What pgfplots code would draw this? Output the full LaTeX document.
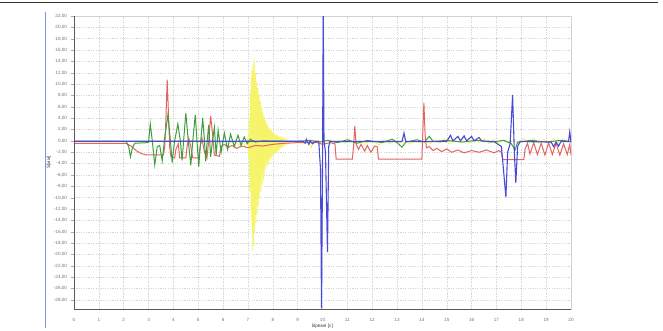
\documentclass[border=0pt]{standalone}
\usepackage{pgfplots}
\pgfplotsset{compat=1.18}
\usepackage{fontspec}
\setmainfont{Liberation Sans}
\definecolor{cred}{HTML}{E46464}
\definecolor{cgreen}{HTML}{3E9E3E}
\definecolor{cblue}{HTML}{4A4AD8}
\definecolor{cyellow}{HTML}{F6F46A}
\definecolor{cgrid}{HTML}{D6D6D6}
\definecolor{ctick}{HTML}{707070}
\begin{document}
\begin{tikzpicture}
\path[use as bounding box] (0pt,0pt) rectangle (663pt,330pt);
\draw[line width=1.8pt, black!80] (0pt,327.5pt) -- (658pt,327.5pt);
\draw[line width=1.6pt, color={rgb,255:red,120;green,150;blue,225}] (45.5pt,2pt) -- (45.5pt,318pt);
\begin{axis}[
  at={(74pt,21pt)}, anchor=south west,
  scale only axis, width=497pt, height=293pt,
  xmin=0, xmax=20, ymin=-29.6, ymax=22,
  xtick={0,1,...,20},
  ytick={-28,-26,...,22},
  grid=major,
  major grid style={cgrid, dash pattern=on 1.2pt off 1.2pt, line width=0.5pt},
  axis line style={draw=gray!35, line width=0.6pt},
  tick style={ctick!60, line width=0.4pt},
  tick align=outside,
  ytick pos=left, xtick pos=bottom,
  major tick length=3.5pt,
  xtick style={draw=none},
  /pgf/number format/assume math mode=true,
  ticklabel style={font=\fontsize{4.6}{5}\selectfont, text=ctick},
  yticklabel style={/pgf/number format/.cd, fixed, fixed zerofill, precision=2, use comma},
  xticklabel style={yshift=-2pt},
  xticklabel={\pgfmathprintnumber[fixed,precision=0]{\tick}},
  xlabel={Время [с]}, ylabel={S[мм]},
  label style={font=\fontsize{4.8}{5}\selectfont, text=black!75},
  xlabel style={yshift=4pt},
  ylabel style={yshift=-4pt},
  clip=true,
]
% yellow
\addplot[cyellow, line width=0.8pt] coordinates {
(0,0)(1,0.05)(2,-0.05)(3,0.05)(4,0)(5,0.1)(6,-0.1)(6.5,-0.3)(6.7,-0.8)(6.8,-0.4)(6.9,-1.0)(6.96,-0.3)
(7.000,0.8)(7.025,-3)(7.050,4)(7.075,-9)(7.100,9)(7.125,-14)(7.150,12.5)(7.175,-19.3)(7.200,13.5)(7.225,-18.5)
(7.250,14.6)(7.275,-16)(7.300,12)(7.325,-14.5)(7.350,10.5)(7.375,-13)(7.400,9.3)(7.425,-11.5)(7.450,8.2)(7.475,-10)
(7.500,7)(7.525,-9)(7.550,6)(7.575,-7.8)(7.600,5)(7.625,-6.8)(7.650,4.3)(7.675,-5.8)(7.700,3.6)(7.725,-5)
(7.750,3.1)(7.775,-4.4)(7.800,2.7)(7.825,-4)(7.850,2.3)(7.875,-3.5)(7.900,2)(7.925,-3.2)(7.950,1.8)(7.975,-2.9)
(8.000,1.6)(8.025,-2.6)(8.050,1.4)(8.075,-2.3)(8.100,1.2)(8.125,-2.1)(8.150,1.1)(8.175,-1.9)(8.200,1.0)(8.225,-1.7)
(8.250,0.9)(8.275,-1.5)(8.300,0.8)(8.325,-1.3)(8.350,0.7)(8.375,-1.1)(8.400,0.6)(8.425,-1)(8.450,0.5)(8.475,-0.8)
(8.5,0.4)(8.55,-0.6)(8.6,0.3)(8.65,-0.4)
(8.7,0.1)(8.9,-0.2)(9.1,0.2)(9.3,-0.1)(9.45,-0.2)(9.55,-1.2)(9.6,-0.2)(9.8,0.1)(10.1,-0.2)(10.3,0.2)(10.5,-0.3)
(10.7,0.2)(10.9,-0.4)(11.1,0.3)(11.3,-0.5)(11.5,0.2)(11.7,-0.6)(11.9,0.1)(12.1,-0.3)(12.3,-0.7)(12.5,0.3)
(12.7,-0.5)(12.9,0.2)(13.1,-0.4)(13.3,0.3)(13.5,-0.6)(13.7,0.2)(13.9,-0.3)(14.1,0.4)(14.3,-0.5)(14.5,0.3)
(14.7,-0.4)(14.9,0.4)(15.1,-0.5)(15.3,0.3)(15.5,-0.3)(15.7,0.5)(15.9,-0.4)(16.1,0.3)(16.3,-0.3)(16.5,0.4)
(16.7,-0.5)(16.9,0.3)(17.1,-0.4)(17.3,0.2)(17.5,-0.3)(17.7,0.3)(17.9,-0.6)(18.1,0.4)(18.3,-0.3)(18.5,0.5)
(18.7,-0.4)(18.9,0.3)(19.1,-0.3)(19.3,0.4)(19.5,-0.3)(19.7,0.3)(19.9,-0.2)(20,0)
};
% red
\addplot[cred, line width=1pt] coordinates {
(0,-0.45)(2.1,-0.45)(2.3,-0.9)(2.5,-1.7)(2.7,-2.2)(2.9,-2.45)(3.6,-2.45)(3.65,-1.0)(3.7,4)(3.75,10.8)(3.8,5)
(3.85,-1)(3.9,-2.8)(4.05,-3.0)(4.1,-1.5)(4.2,-0.5)(4.25,-3.0)(4.5,-3.0)(4.55,-1)(4.62,0.5)(4.7,-1)(4.78,-3.0)
(5.0,-3.0)(5.08,-1)(5.15,0.5)(5.25,-2)(5.35,-3.0)(5.42,0)(5.5,4.4)(5.58,1)(5.65,-2.5)(5.85,-2.7)(5.92,-1)
(6.05,-0.6)(6.2,-1.2)(6.35,-0.8)(6.55,-1.3)(6.75,-0.9)(7.0,-1.2)(7.3,-0.8)(7.6,-0.9)(8.0,-0.6)(8.5,-0.4)
(9.0,-0.3)(9.8,-0.3)(10.0,-0.6)(10.3,-0.3)(10.5,-0.5)(10.55,-3.2)(11.2,-3.2)(11.25,-1)(11.3,2.6)(11.35,-0.5)
(11.45,-1.5)(11.55,-0.6)(11.7,-1.8)(11.8,-0.8)(11.95,-2.0)(12.1,-0.9)(12.2,-1.0)(12.25,-3.2)(14.0,-3.2)
(14.04,2)(14.08,6.7)(14.13,1)(14.18,-1.2)(14.3,-1.0)(14.45,-1.7)(14.6,-1.3)(14.8,-1.9)(15.0,-1.4)(15.2,-2.0)
(15.45,-1.6)(15.7,-2.1)(16.0,-1.7)(16.3,-2.0)(16.6,-1.6)(16.9,-2.1)(17.1,-1.7)(17.2,-2.0)(17.25,-3.3)(18.1,-3.3)
(18.15,-1.5)(18.25,-0.4)(18.35,-2.3)(18.5,-0.3)(18.65,-2.4)(18.8,-0.4)(18.95,-2.5)(19.1,-0.3)(19.25,-2.4)
(19.4,-0.4)(19.55,-2.5)(19.7,-0.5)(19.85,-2.4)(19.95,-0.6)(20,-2.5)
};
% green
\addplot[cgreen, line width=1pt] coordinates {
(0,-0.1)(2.1,-0.1)(2.2,-1)(2.27,-2.8)(2.35,-1.2)(2.45,-0.4)(3.0,-0.3)(3.07,3.0)(3.15,0)(3.25,-4.2)(3.35,-1)
(3.45,-0.8)(3.55,-3.5)(3.65,0.5)(3.78,4.6)(3.87,0.5)(3.95,-3.8)(4.05,0)(4.18,3.0)(4.28,0)(4.35,-3.4)(4.42,0.5)
(4.5,4.9)(4.6,0)(4.7,-4.3)(4.78,0)(4.88,4.6)(4.95,0)(5.02,-4.5)(5.1,0)(5.18,4.0)(5.25,0)(5.3,-3.6)(5.36,0)
(5.42,2.8)(5.5,-2.8)(5.58,0.3)(5.65,2.4)(5.72,-2.5)(5.8,1.9)(5.92,-2.0)(6.05,1.4)(6.18,-1.5)(6.3,1.2)
(6.45,-1.0)(6.6,1.0)(6.72,-0.8)(6.85,0.7)(6.97,-0.5)(7.1,0.3)(7.3,-0.2)(7.6,0)(9.0,-0.1)(9.5,0.1)(9.9,-0.2)
(10.2,0.1)(10.6,-0.3)(11.0,0.2)(11.4,-0.4)(11.8,0.1)(12.4,-0.3)(12.8,0.3)(13.0,-0.3)(13.2,-1.1)(13.35,-0.2)
(13.8,0.2)(14.1,-0.2)(14.3,0.8)(14.45,-0.1)(15,0.1)(15.6,-0.2)(16.2,0.1)(16.8,-0.2)(17.3,0.1)(17.6,-0.5)
(17.75,-1.6)(17.85,-0.2)(18.4,0.1)(19,-0.2)(19.6,0.1)(20,-0.1)
};
% blue
\addplot[cblue, line width=1.1pt] coordinates {
(0,-0.05)(9.2,-0.05)(9.3,-0.4)(9.35,0.3)(9.45,-0.6)(9.5,0)(9.6,-0.5)(9.7,-0.1)(9.85,-0.1)(9.92,-5)(9.96,-29.5)
(10.0,-5)(10.03,22.5)(10.06,0)(10.12,-2)(10.2,-19.6)(10.25,-1)(10.3,-0.1)(13.2,-0.1)(13.28,1.4)(13.35,-0.1)
(15.0,-0.1)(15.15,1.0)(15.25,0)(15.45,0.8)(15.55,0)(15.7,0.9)(15.8,0)(16.0,0.8)(16.1,0)(16.3,0.6)(16.4,0)
(16.9,-0.1)(17.2,-1)(17.38,-9.9)(17.45,-2)(17.55,-0.5)(17.65,8.1)(17.72,-2)(17.78,-7.4)(17.85,-1)(17.95,-0.1)
(19.2,-0.2)(19.3,-1)(19.4,-0.2)(19.5,-0.9)(19.6,-0.1)(19.9,-0.1)(19.95,1.6)(20,-0.3)
};
\draw[black!65, line width=1pt] (rel axis cs:0,1) -- (rel axis cs:0,0) -- (rel axis cs:1,0);
\end{axis}
\end{tikzpicture}
\end{document}
